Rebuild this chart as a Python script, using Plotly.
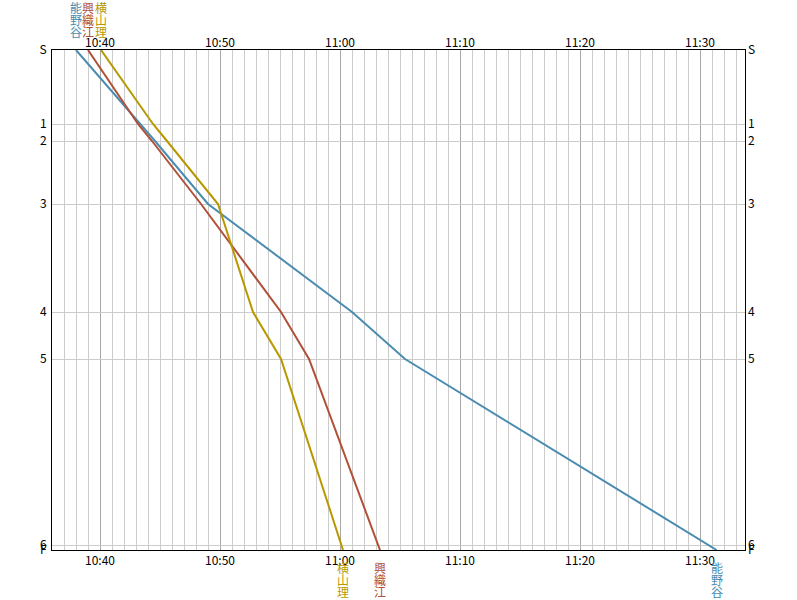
import plotly.graph_objects as go

# ---- data ----
station_labels = ["S", "1", "2", "3", "4", "5", "6", "F"]
station_pos = [0, 74, 91, 154, 262, 309, 495, 500]

route = ["S", "1", "2", "3", "4", "5", "F"]

train_names = ["能野谷", "興織江", "横山理"]
train_colors = ["#4a8cb0", "#b05038", "#b89800"]
times_noya = ["10:38:00", "10:43:25", "10:44:35", "10:49:00", "11:01:00", "11:05:25", "11:31:23"]
times_koori = ["10:39:00", "10:43:10", "10:44:20", "10:48:25", "10:55:05", "10:57:25", "11:03:20"]
times_yoko = ["10:40:05", "10:44:25", "10:45:35", "10:49:50", "10:52:45", "10:55:05", "11:00:15"]
train_times = [times_noya, times_koori, times_yoko]

DAY = "2024-01-01 "
x_range = [DAY + "10:36:00", DAY + "11:33:45"]
FONT = "Noto Sans CJK JP"

pos_of = dict(zip(station_labels, station_pos))

fig = go.Figure()
for name, color, tms in zip(train_names, train_colors, train_times):
    fig.add_trace(go.Scatter(
        x=[DAY + t for t in tms],
        y=[pos_of[s] for s in route],
        mode="lines",
        line=dict(color=color, width=2),
        name=name,
        showlegend=False,
        hoverinfo="skip",
    ))

# dummy trace to activate top/right axes
fig.add_trace(go.Scatter(
    x=[DAY + times_noya[0]], y=[0], xaxis="x2", yaxis="y2",
    mode="markers", marker=dict(color="rgba(0,0,0,0)"),
    showlegend=False, hoverinfo="skip",
))

xcommon = dict(
    type="date", range=x_range, tickformat="%H:%M",
    tick0=DAY + "10:40:00", dtick=600000,
    tickfont=dict(family=FONT, size=12, color="black"),
    ticks="", zeroline=False, automargin=False,
)
ycommon = dict(
    range=[500, 0], tickmode="array", tickvals=station_pos, ticktext=station_labels,
    tickfont=dict(family=FONT, size=12, color="black"),
    ticks="", zeroline=False, ticklabelstandoff=2, automargin=False,
)

fig.update_layout(
    width=797, height=600,
    margin=dict(l=52, r=52, t=50, b=50, autoexpand=False),
    plot_bgcolor="white", paper_bgcolor="white",
    font=dict(family=FONT, size=12, color="black"),
    xaxis=dict(**xcommon, side="bottom", showgrid=True, gridcolor="#a8a8a8", gridwidth=1,
               minor=dict(dtick=60000, showgrid=True, gridcolor="#cccccc", gridwidth=1),
               showline=True, linecolor="black", linewidth=1, mirror=True,
               ticklabelstandoff=0),
    xaxis2=dict(**xcommon, side="top", overlaying="x", showgrid=False, showline=False,
                ticklabelstandoff=0),
    yaxis=dict(**ycommon, side="left", showgrid=True, gridcolor="#cccccc", gridwidth=1,
               showline=True, linecolor="black", linewidth=1, mirror=True),
    yaxis2=dict(**ycommon, side="right", overlaying="y", showgrid=False, showline=False),
)

annotations = []
top_shifts = [43, 31, 19]
bottom_shifts = [-17, -29, -41]
for name, color, tms in zip(train_names, train_colors, train_times):
    for i, ch in enumerate(name):
        annotations.append(dict(
            x=DAY + tms[0], xref="x", y=1, yref="paper", text=ch, showarrow=False,
            yanchor="middle", xanchor="center", yshift=top_shifts[i],
            font=dict(family=FONT, size=12, color=color),
        ))
        annotations.append(dict(
            x=DAY + tms[-1], xref="x", y=0, yref="paper", text=ch, showarrow=False,
            yanchor="middle", xanchor="center", yshift=bottom_shifts[i],
            font=dict(family=FONT, size=12, color=color),
        ))
fig.update_layout(annotations=annotations)

fig.write_html(
    "out.html",
    config={"displayModeBar": False},
    post_script="document.body.style.margin='0';document.body.style.overflow='hidden';",
)
